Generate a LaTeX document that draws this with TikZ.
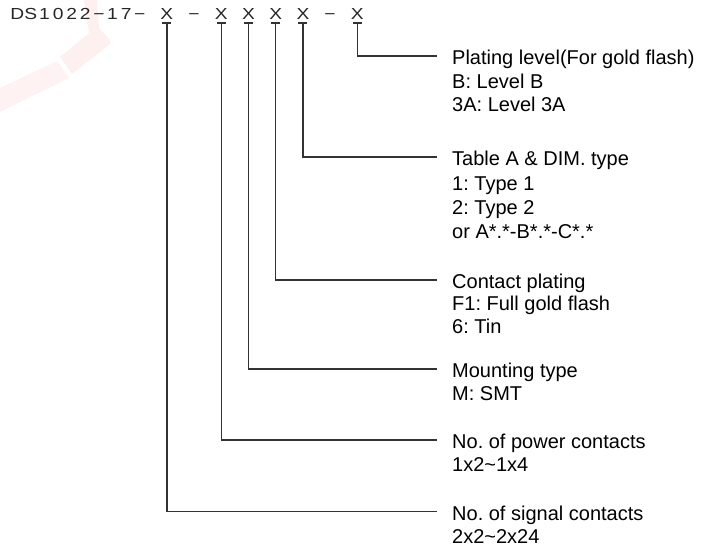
\documentclass[tikz,border=0pt]{standalone}
\usepackage{fontspec}
\setmainfont{Liberation Sans}
\frenchspacing
\newcommand\hstretch[1]{\scalebox{1.2}[1]{#1}}
\begin{document}
\begin{tikzpicture}[x=1pt,y=-1pt,
  hdr/.style={font=\fontsize{16}{18}\selectfont, inner sep=0pt, anchor=base, text=black!85},
  lab/.style={font=\fontsize{20}{23}\selectfont, inner sep=0pt, anchor=base west, text height=17.4pt, text depth=0pt},
  det/.style={font=\fontsize{20}{23}\selectfont, inner sep=0pt, anchor=base west},
  conn/.style={line width=1.3pt, draw=black!80, shorten >=15pt},
  tick/.style={line width=1.1pt, draw=black!80}]
\useasboundingbox (0,0) rectangle (709,557);
% faint watermark
\fill[red!6] (84,0) -- (97,0) -- (99,28) -- (110,40) -- (110,44) -- (72,74) -- (60,57) -- (89,33) -- cycle;
\fill[red!5] (57,61) -- (69,78) -- (0,112) -- (0,88) -- cycle;
% header
\foreach \c [count=\i from 0] in {D,S,1,0,2,2,−,1,7,−}
  \node[hdr] (h\i) at ({17.3+13.6*\i},19) {\hstretch{\c}};
\foreach \n/\i in {1/11,2/15,3/17,4/19,5/21,6/25}{
  \node[hdr] (x\n) at ({17.3+13.6*\i},19) {\hstretch{X}};
  \coordinate (u\n) at ({17.3+13.6*\i},23);
}
\node[hdr] (d1) at ({17.3+13.6*13},19) {\hstretch{−}};
\node[hdr] (d2) at ({17.3+13.6*23},19) {\hstretch{−}};
% labels
\node[lab] (t6) at (452,64.7) {Plating level(For gold flash)};
\node[det] (t6a) at (452,88.3) {B: Level B};
\node[det] (t6b) at (452,111.3) {3A: Level 3A};
\node[lab] (t5) at (452,165.7) {Table A \& DIM. type};
\node[det] (t5a) at (452,190) {1: Type 1};
\node[det] (t5b) at (452,214) {2: Type 2};
\node[det] (t5c) at (452,238.5) {or A*.*-B*.*-C*.*};
\node[lab] (t4) at (452,288.7) {Contact plating};
\node[det] (t4a) at (452,310) {F1: Full gold flash};
\node[det] (t4b) at (452,333) {6: Tin};
\node[lab] (t3) at (452,377.7) {Mounting type};
\node[det] (t3a) at (452,400) {M: SMT};
\node[lab] (t2) at (452,448.7) {No. of power contacts};
\node[det] (t2a) at (452,471.7) {1x2\textasciitilde1x4};
\node[lab] (t1) at (452,520.2) {No. of signal contacts};
\node[det] (t1a) at (452,543) {2x2\textasciitilde2x24};
% connectors
\foreach \n in {1,...,6}{
  \draw[tick] ([xshift=-4.5pt]u\n) -- ([xshift=4.5pt]u\n);
  \draw[conn] (u\n) |- (t\n.west);
}
\end{tikzpicture}
\end{document}
